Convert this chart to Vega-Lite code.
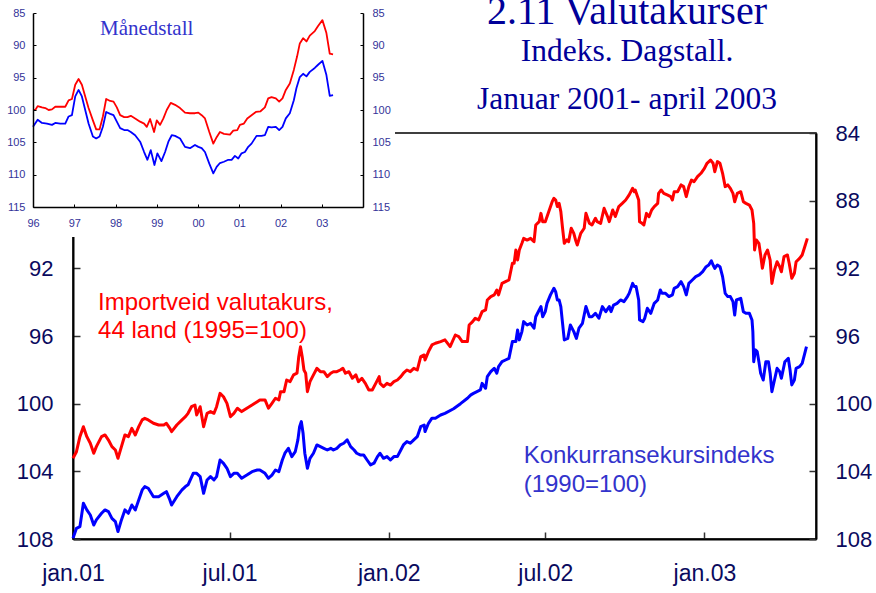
{
"$schema": "https://vega.github.io/schema/vega-lite/v6.json",
"width": 743, "height": 406,
"autosize": {"type": "none"},
"padding": {"left": 73, "top": 133, "right": 60, "bottom": 54},
"background": "white",
"config": {"view": {"stroke": "#000000", "strokeWidth": 1.5}, "font": "Liberation Sans"},
"title": {"text": "2.11 Valutakurser", "subtitle": ["Indeks. Dagstall.", "Januar 2001- april 2003"], "anchor": "middle", "dx": 182.5, "dy": 122, "frame": "group", "font": "Liberation Serif", "fontSize": 40, "fontWeight": "normal", "color": "#000099", "subtitleFont": "Liberation Serif", "subtitleFontSize": 31.5, "subtitleColor": "#000099", "subtitleLineHeight": 48, "subtitlePadding": 4, "offset": 0},
"datasets": {
"daily": [
{"d":"2001-01-01","s":"I","v":103.23},{"d":"2001-01-05","s":"I","v":102.84},{"d":"2001-01-09","s":"I","v":101.95},{"d":"2001-01-13","s":"I","v":101.36},{"d":"2001-01-17","s":"I","v":101.95},{"d":"2001-01-21","s":"I","v":102.34},{"d":"2001-01-25","s":"I","v":102.93},{"d":"2001-01-28","s":"I","v":102.54},{"d":"2001-02-03","s":"I","v":101.95},{"d":"2001-02-07","s":"I","v":101.85},{"d":"2001-02-11","s":"I","v":102.15},{"d":"2001-02-15","s":"I","v":102.54},{"d":"2001-02-19","s":"I","v":102.74},{"d":"2001-02-22","s":"I","v":103.23},{"d":"2001-02-26","s":"I","v":102.54},{"d":"2001-03-02","s":"I","v":101.85},{"d":"2001-03-06","s":"I","v":101.95},{"d":"2001-03-10","s":"I","v":101.46},{"d":"2001-03-14","s":"I","v":101.85},{"d":"2001-03-18","s":"I","v":101.36},{"d":"2001-03-22","s":"I","v":100.96},{"d":"2001-03-25","s":"I","v":100.87},{"d":"2001-03-29","s":"I","v":100.96},{"d":"2001-04-04","s":"I","v":101.16},{"d":"2001-04-10","s":"I","v":101.26},{"d":"2001-04-16","s":"I","v":101.26},{"d":"2001-04-19","s":"I","v":101.16},{"d":"2001-04-23","s":"I","v":101.46},{"d":"2001-04-25","s":"I","v":101.65},{"d":"2001-05-01","s":"I","v":101.26},{"d":"2001-05-07","s":"I","v":100.96},{"d":"2001-05-11","s":"I","v":100.77},{"d":"2001-05-14","s":"I","v":100.57},{"d":"2001-05-18","s":"I","v":100.18},{"d":"2001-05-22","s":"I","v":100.08},{"d":"2001-05-24","s":"I","v":100.67},{"d":"2001-05-28","s":"I","v":100.18},{"d":"2001-06-01","s":"I","v":101.36},{"d":"2001-06-05","s":"I","v":100.57},{"d":"2001-06-09","s":"I","v":100.47},{"d":"2001-06-13","s":"I","v":100.57},{"d":"2001-06-16","s":"I","v":100.18},{"d":"2001-06-20","s":"I","v":99.39},{"d":"2001-06-24","s":"I","v":99.59},{"d":"2001-06-28","s":"I","v":99.98},{"d":"2001-07-02","s":"I","v":100.77},{"d":"2001-07-06","s":"I","v":100.57},{"d":"2001-07-10","s":"I","v":100.27},{"d":"2001-07-15","s":"I","v":100.47},{"d":"2001-07-21","s":"I","v":100.27},{"d":"2001-07-27","s":"I","v":100.08},{"d":"2001-08-02","s":"I","v":99.88},{"d":"2001-08-05","s":"I","v":99.78},
{"d":"2001-08-11","s":"I","v":99.78},{"d":"2001-08-15","s":"I","v":100.27},{"d":"2001-08-19","s":"I","v":99.98},{"d":"2001-08-23","s":"I","v":99.68},{"d":"2001-08-27","s":"I","v":99.78},{"d":"2001-08-29","s":"I","v":99.29},{"d":"2001-09-02","s":"I","v":99.29},{"d":"2001-09-05","s":"I","v":98.60},{"d":"2001-09-09","s":"I","v":98.70},{"d":"2001-09-13","s":"I","v":98.30},{"d":"2001-09-17","s":"I","v":98.20},{"d":"2001-09-19","s":"I","v":97.22},{"d":"2001-09-21","s":"I","v":96.63},{"d":"2001-09-23","s":"I","v":97.22},{"d":"2001-09-25","s":"I","v":98.01},{"d":"2001-09-27","s":"I","v":98.20},{"d":"2001-09-29","s":"I","v":99.29},{"d":"2001-10-02","s":"I","v":98.70},{"d":"2001-10-06","s":"I","v":98.30},{"d":"2001-10-10","s":"I","v":97.91},{"d":"2001-10-14","s":"I","v":98.11},{"d":"2001-10-18","s":"I","v":98.11},{"d":"2001-10-22","s":"I","v":98.40},{"d":"2001-10-26","s":"I","v":98.20},{"d":"2001-10-29","s":"I","v":98.11},{"d":"2001-11-02","s":"I","v":98.11},{"d":"2001-11-06","s":"I","v":98.01},{"d":"2001-11-09","s":"I","v":97.91},{"d":"2001-11-12","s":"I","v":98.20},{"d":"2001-11-16","s":"I","v":98.11},{"d":"2001-11-20","s":"I","v":98.50},{"d":"2001-11-24","s":"I","v":98.30},{"d":"2001-11-27","s":"I","v":98.70},{"d":"2001-12-01","s":"I","v":98.50},{"d":"2001-12-05","s":"I","v":98.80},{"d":"2001-12-09","s":"I","v":99.19},{"d":"2001-12-13","s":"I","v":99.19},{"d":"2001-12-17","s":"I","v":98.80},{"d":"2001-12-21","s":"I","v":98.40},{"d":"2001-12-22","s":"I","v":98.80},{"d":"2001-12-26","s":"I","v":98.99},{"d":"2001-12-30","s":"I","v":98.80},{"d":"2002-01-03","s":"I","v":98.90},{"d":"2002-01-07","s":"I","v":98.70},{"d":"2002-01-11","s":"I","v":98.60},{"d":"2002-01-15","s":"I","v":98.40},{"d":"2002-01-18","s":"I","v":98.20},{"d":"2002-01-22","s":"I","v":98.01},{"d":"2002-01-26","s":"I","v":98.11},{"d":"2002-01-30","s":"I","v":97.91},{"d":"2002-02-03","s":"I","v":98.01},{"d":"2002-02-07","s":"I","v":97.22},{"d":"2002-02-11","s":"I","v":97.12},{"d":"2002-02-12","s":"I","v":97.42},{"d":"2002-02-16","s":"I","v":96.92},{"d":"2002-02-20","s":"I","v":96.53},{"d":"2002-02-24","s":"I","v":96.43},{"d":"2002-03-02","s":"I","v":96.33},{"d":"2002-03-07","s":"I","v":96.23},
{"d":"2002-03-13","s":"I","v":96.63},{"d":"2002-03-19","s":"I","v":95.94},{"d":"2002-03-23","s":"I","v":96.04},{"d":"2002-03-27","s":"I","v":96.33},{"d":"2002-04-02","s":"I","v":96.33},{"d":"2002-04-04","s":"I","v":95.35},{"d":"2002-04-08","s":"I","v":95.15},{"d":"2002-04-11","s":"I","v":94.95},{"d":"2002-04-15","s":"I","v":95.05},{"d":"2002-04-19","s":"I","v":94.56},{"d":"2002-04-23","s":"I","v":94.46},{"d":"2002-04-25","s":"I","v":93.87},{"d":"2002-04-29","s":"I","v":93.67},{"d":"2002-05-03","s":"I","v":93.57},{"d":"2002-05-06","s":"I","v":93.28},{"d":"2002-05-08","s":"I","v":93.57},{"d":"2002-05-12","s":"I","v":92.89},{"d":"2002-05-16","s":"I","v":92.79},{"d":"2002-05-20","s":"I","v":92.69},{"d":"2002-05-24","s":"I","v":91.70},{"d":"2002-05-26","s":"I","v":91.70},{"d":"2002-05-28","s":"I","v":90.92},{"d":"2002-05-30","s":"I","v":91.51},{"d":"2002-06-01","s":"I","v":90.92},{"d":"2002-06-04","s":"I","v":90.52},{"d":"2002-06-06","s":"I","v":90.23},{"d":"2002-06-10","s":"I","v":90.33},{"d":"2002-06-14","s":"I","v":90.23},{"d":"2002-06-18","s":"I","v":90.42},{"d":"2002-06-20","s":"I","v":89.44},{"d":"2002-06-24","s":"I","v":89.24},{"d":"2002-06-26","s":"I","v":88.75},{"d":"2002-06-28","s":"I","v":89.24},{"d":"2002-07-01","s":"I","v":89.24},{"d":"2002-07-05","s":"I","v":88.65},{"d":"2002-07-09","s":"I","v":88.06},{"d":"2002-07-11","s":"I","v":87.86},{"d":"2002-07-13","s":"I","v":87.96},{"d":"2002-07-15","s":"I","v":88.35},{"d":"2002-07-17","s":"I","v":88.16},{"d":"2002-07-19","s":"I","v":88.65},{"d":"2002-07-21","s":"I","v":89.63},{"d":"2002-07-23","s":"I","v":90.52},{"d":"2002-07-26","s":"I","v":90.32},{"d":"2002-07-28","s":"I","v":90.42},{"d":"2002-07-31","s":"I","v":89.63},{"d":"2002-08-03","s":"I","v":89.93},{"d":"2002-08-05","s":"I","v":90.32},{"d":"2002-08-07","s":"I","v":90.62},{"d":"2002-08-11","s":"I","v":89.93},{"d":"2002-08-15","s":"I","v":89.63},{"d":"2002-08-17","s":"I","v":88.75},{"d":"2002-08-21","s":"I","v":89.34},{"d":"2002-08-24","s":"I","v":89.44},{"d":"2002-08-28","s":"I","v":89.04},{"d":"2002-08-30","s":"I","v":89.24},{"d":"2002-09-03","s":"I","v":89.34},{"d":"2002-09-07","s":"I","v":88.45},{"d":"2002-09-11","s":"I","v":88.94},{"d":"2002-09-13","s":"I","v":89.24},{"d":"2002-09-17","s":"I","v":88.55},{"d":"2002-09-20","s":"I","v":88.94},{"d":"2002-09-24","s":"I","v":88.35},{"d":"2002-09-28","s":"I","v":88.16},{"d":"2002-10-02","s":"I","v":87.96},
{"d":"2002-10-06","s":"I","v":87.66},{"d":"2002-10-10","s":"I","v":87.27},{"d":"2002-10-12","s":"I","v":87.47},{"d":"2002-10-13","s":"I","v":87.37},{"d":"2002-10-17","s":"I","v":87.96},{"d":"2002-10-18","s":"I","v":89.24},{"d":"2002-10-21","s":"I","v":89.34},{"d":"2002-10-23","s":"I","v":89.44},{"d":"2002-10-26","s":"I","v":88.75},{"d":"2002-10-29","s":"I","v":88.95},{"d":"2002-11-01","s":"I","v":88.55},{"d":"2002-11-04","s":"I","v":88.35},{"d":"2002-11-08","s":"I","v":88.16},{"d":"2002-11-09","s":"I","v":87.57},{"d":"2002-11-12","s":"I","v":87.37},{"d":"2002-11-15","s":"I","v":87.57},{"d":"2002-11-19","s":"I","v":87.66},{"d":"2002-11-23","s":"I","v":87.76},{"d":"2002-11-25","s":"I","v":87.96},{"d":"2002-11-27","s":"I","v":87.47},{"d":"2002-12-01","s":"I","v":87.47},{"d":"2002-12-05","s":"I","v":87.07},{"d":"2002-12-08","s":"I","v":87.17},{"d":"2002-12-11","s":"I","v":87.76},{"d":"2002-12-14","s":"I","v":87.17},{"d":"2002-12-17","s":"I","v":86.78},{"d":"2002-12-20","s":"I","v":86.88},{"d":"2002-12-24","s":"I","v":86.58},{"d":"2002-12-28","s":"I","v":86.38},{"d":"2003-01-01","s":"I","v":86.09},{"d":"2003-01-04","s":"I","v":85.79},{"d":"2003-01-08","s":"I","v":85.60},{"d":"2003-01-11","s":"I","v":85.79},{"d":"2003-01-13","s":"I","v":86.29},{"d":"2003-01-16","s":"I","v":85.69},{"d":"2003-01-19","s":"I","v":85.79},{"d":"2003-01-22","s":"I","v":86.38},{"d":"2003-01-25","s":"I","v":87.17},{"d":"2003-01-28","s":"I","v":87.07},{"d":"2003-01-31","s":"I","v":87.27},{"d":"2003-02-03","s":"I","v":87.57},{"d":"2003-02-05","s":"I","v":88.06},{"d":"2003-02-08","s":"I","v":87.57},{"d":"2003-02-12","s":"I","v":87.47},{"d":"2003-02-15","s":"I","v":88.06},{"d":"2003-02-18","s":"I","v":88.16},{"d":"2003-02-22","s":"I","v":88.26},{"d":"2003-02-25","s":"I","v":88.55},{"d":"2003-02-27","s":"I","v":89.34},{"d":"2003-02-28","s":"I","v":90.92},{"d":"2003-03-02","s":"I","v":90.32},{"d":"2003-03-05","s":"I","v":90.52},{"d":"2003-03-07","s":"I","v":91.21},{"d":"2003-03-09","s":"I","v":92.00},{"d":"2003-03-12","s":"I","v":91.21},{"d":"2003-03-15","s":"I","v":90.92},{"d":"2003-03-18","s":"I","v":91.51},{"d":"2003-03-20","s":"I","v":92.89},{"d":"2003-03-23","s":"I","v":92.10},{"d":"2003-03-26","s":"I","v":91.61},{"d":"2003-03-29","s":"I","v":91.90},{"d":"2003-03-31","s":"I","v":92.20},{"d":"2003-04-03","s":"I","v":91.31},{"d":"2003-04-07","s":"I","v":91.21},{"d":"2003-04-09","s":"I","v":91.70},{"d":"2003-04-12","s":"I","v":92.59},{"d":"2003-04-15","s":"I","v":92.29},{"d":"2003-04-17","s":"I","v":91.61},{"d":"2003-04-21","s":"I","v":91.41},{"d":"2003-04-24","s":"I","v":91.21},{"d":"2003-04-27","s":"I","v":90.72},{"d":"2003-04-30","s":"I","v":90.23},
{"d":"2001-01-01","s":"K","v":107.96},{"d":"2001-01-05","s":"K","v":107.37},{"d":"2001-01-09","s":"K","v":107.27},{"d":"2001-01-13","s":"K","v":105.89},{"d":"2001-01-17","s":"K","v":106.28},{"d":"2001-01-21","s":"K","v":106.58},{"d":"2001-01-25","s":"K","v":107.17},{"d":"2001-01-28","s":"K","v":106.87},{"d":"2001-02-03","s":"K","v":106.48},{"d":"2001-02-07","s":"K","v":106.28},{"d":"2001-02-11","s":"K","v":106.38},{"d":"2001-02-15","s":"K","v":106.78},{"d":"2001-02-19","s":"K","v":106.97},{"d":"2001-02-22","s":"K","v":107.56},{"d":"2001-02-26","s":"K","v":106.87},{"d":"2001-03-02","s":"K","v":106.28},{"d":"2001-03-06","s":"K","v":106.48},{"d":"2001-03-10","s":"K","v":105.99},{"d":"2001-03-14","s":"K","v":106.28},{"d":"2001-03-18","s":"K","v":105.69},{"d":"2001-03-22","s":"K","v":105.10},{"d":"2001-03-25","s":"K","v":104.90},{"d":"2001-03-29","s":"K","v":105.00},{"d":"2001-04-04","s":"K","v":105.50},{"d":"2001-04-10","s":"K","v":105.50},{"d":"2001-04-16","s":"K","v":105.30},{"d":"2001-04-19","s":"K","v":105.20},{"d":"2001-04-23","s":"K","v":105.69},{"d":"2001-04-25","s":"K","v":105.99},{"d":"2001-05-01","s":"K","v":105.50},{"d":"2001-05-07","s":"K","v":105.10},{"d":"2001-05-11","s":"K","v":104.90},{"d":"2001-05-14","s":"K","v":104.80},{"d":"2001-05-20","s":"K","v":104.12},{"d":"2001-05-24","s":"K","v":104.12},{"d":"2001-05-28","s":"K","v":104.31},{"d":"2001-06-01","s":"K","v":105.30},{"d":"2001-06-05","s":"K","v":104.51},{"d":"2001-06-09","s":"K","v":104.31},{"d":"2001-06-13","s":"K","v":104.51},{"d":"2001-06-16","s":"K","v":104.31},{"d":"2001-06-20","s":"K","v":103.33},{"d":"2001-06-24","s":"K","v":103.53},{"d":"2001-06-28","s":"K","v":103.82},{"d":"2001-07-02","s":"K","v":104.31},{"d":"2001-07-06","s":"K","v":104.12},{"d":"2001-07-10","s":"K","v":104.12},{"d":"2001-07-15","s":"K","v":104.41},{"d":"2001-07-21","s":"K","v":104.22},{"d":"2001-07-27","s":"K","v":104.02},{"d":"2001-08-02","s":"K","v":103.92},{"d":"2001-08-05","s":"K","v":103.92},
{"d":"2001-08-11","s":"K","v":104.12},{"d":"2001-08-15","s":"K","v":104.41},{"d":"2001-08-19","s":"K","v":104.22},{"d":"2001-08-23","s":"K","v":103.92},{"d":"2001-08-27","s":"K","v":104.02},{"d":"2001-08-31","s":"K","v":103.33},{"d":"2001-09-03","s":"K","v":102.93},{"d":"2001-09-07","s":"K","v":102.64},{"d":"2001-09-11","s":"K","v":103.13},{"d":"2001-09-15","s":"K","v":102.83},{"d":"2001-09-18","s":"K","v":102.14},{"d":"2001-09-20","s":"K","v":101.36},{"d":"2001-09-22","s":"K","v":101.06},{"d":"2001-09-24","s":"K","v":101.75},{"d":"2001-09-26","s":"K","v":102.93},{"d":"2001-09-29","s":"K","v":103.82},{"d":"2001-10-02","s":"K","v":103.23},{"d":"2001-10-06","s":"K","v":102.93},{"d":"2001-10-10","s":"K","v":102.44},{"d":"2001-10-14","s":"K","v":102.54},{"d":"2001-10-18","s":"K","v":102.64},{"d":"2001-10-22","s":"K","v":102.74},{"d":"2001-10-26","s":"K","v":102.64},{"d":"2001-10-29","s":"K","v":102.74},{"d":"2001-11-02","s":"K","v":102.64},{"d":"2001-11-06","s":"K","v":102.44},{"d":"2001-11-10","s":"K","v":102.34},{"d":"2001-11-14","s":"K","v":102.14},{"d":"2001-11-18","s":"K","v":102.54},{"d":"2001-11-22","s":"K","v":102.74},{"d":"2001-11-25","s":"K","v":102.93},{"d":"2001-11-29","s":"K","v":103.03},{"d":"2001-12-03","s":"K","v":103.03},{"d":"2001-12-07","s":"K","v":103.33},{"d":"2001-12-11","s":"K","v":103.62},{"d":"2001-12-15","s":"K","v":103.52},{"d":"2001-12-19","s":"K","v":103.13},{"d":"2001-12-22","s":"K","v":102.93},{"d":"2001-12-26","s":"K","v":103.23},{"d":"2001-12-30","s":"K","v":103.13},{"d":"2002-01-03","s":"K","v":103.33},{"d":"2002-01-07","s":"K","v":103.13},{"d":"2002-01-11","s":"K","v":103.13},{"d":"2002-01-15","s":"K","v":102.74},{"d":"2002-01-18","s":"K","v":102.44},{"d":"2002-01-22","s":"K","v":102.24},{"d":"2002-01-26","s":"K","v":102.34},{"d":"2002-01-30","s":"K","v":102.14},{"d":"2002-02-03","s":"K","v":101.95},{"d":"2002-02-07","s":"K","v":101.36},{"d":"2002-02-11","s":"K","v":101.26},{"d":"2002-02-12","s":"K","v":101.65},{"d":"2002-02-16","s":"K","v":101.16},{"d":"2002-02-20","s":"K","v":100.86},{"d":"2002-02-24","s":"K","v":100.86},{"d":"2002-03-02","s":"K","v":100.67},{"d":"2002-03-07","s":"K","v":100.57},{"d":"2002-03-17","s":"K","v":100.30},{"d":"2002-03-25","s":"K","v":100.00},
{"d":"2002-04-02","s":"K","v":99.68},{"d":"2002-04-06","s":"K","v":99.48},{"d":"2002-04-09","s":"K","v":99.39},{"d":"2002-04-13","s":"K","v":99.29},{"d":"2002-04-17","s":"K","v":99.19},{"d":"2002-04-19","s":"K","v":98.80},{"d":"2002-04-23","s":"K","v":99.09},{"d":"2002-04-25","s":"K","v":98.40},{"d":"2002-04-29","s":"K","v":98.11},{"d":"2002-05-03","s":"K","v":97.91},{"d":"2002-05-06","s":"K","v":98.20},{"d":"2002-05-08","s":"K","v":97.81},{"d":"2002-05-12","s":"K","v":97.52},{"d":"2002-05-16","s":"K","v":97.42},{"d":"2002-05-20","s":"K","v":97.32},{"d":"2002-05-24","s":"K","v":96.33},{"d":"2002-05-28","s":"K","v":96.33},{"d":"2002-05-30","s":"K","v":95.64},{"d":"2002-06-01","s":"K","v":96.23},{"d":"2002-06-04","s":"K","v":95.74},{"d":"2002-06-06","s":"K","v":95.15},{"d":"2002-06-10","s":"K","v":95.35},{"d":"2002-06-14","s":"K","v":95.25},{"d":"2002-06-18","s":"K","v":95.54},{"d":"2002-06-20","s":"K","v":94.86},{"d":"2002-06-24","s":"K","v":94.46},{"d":"2002-06-26","s":"K","v":94.26},{"d":"2002-06-28","s":"K","v":94.86},{"d":"2002-07-01","s":"K","v":94.56},{"d":"2002-07-03","s":"K","v":94.07},{"d":"2002-07-07","s":"K","v":93.57},{"d":"2002-07-11","s":"K","v":93.18},{"d":"2002-07-13","s":"K","v":93.38},{"d":"2002-07-15","s":"K","v":93.87},{"d":"2002-07-17","s":"K","v":93.87},{"d":"2002-07-19","s":"K","v":94.26},{"d":"2002-07-21","s":"K","v":95.25},{"d":"2002-07-23","s":"K","v":96.23},{"d":"2002-07-27","s":"K","v":96.14},{"d":"2002-07-30","s":"K","v":95.35},{"d":"2002-08-03","s":"K","v":95.74},{"d":"2002-08-06","s":"K","v":96.14},{"d":"2002-08-09","s":"K","v":95.54},{"d":"2002-08-13","s":"K","v":95.25},{"d":"2002-08-17","s":"K","v":94.26},{"d":"2002-08-21","s":"K","v":94.86},{"d":"2002-08-24","s":"K","v":94.86},{"d":"2002-08-28","s":"K","v":94.66},{"d":"2002-09-01","s":"K","v":94.95},{"d":"2002-09-05","s":"K","v":94.26},{"d":"2002-09-09","s":"K","v":94.56},{"d":"2002-09-13","s":"K","v":94.26},{"d":"2002-09-15","s":"K","v":94.56},{"d":"2002-09-18","s":"K","v":94.17},{"d":"2002-09-22","s":"K","v":94.07},{"d":"2002-09-26","s":"K","v":93.87},{"d":"2002-09-30","s":"K","v":93.97},{"d":"2002-10-04","s":"K","v":93.67},
{"d":"2002-10-06","s":"K","v":93.48},{"d":"2002-10-10","s":"K","v":92.89},{"d":"2002-10-12","s":"K","v":93.08},{"d":"2002-10-14","s":"K","v":93.08},{"d":"2002-10-17","s":"K","v":93.87},{"d":"2002-10-18","s":"K","v":95.05},{"d":"2002-10-22","s":"K","v":95.15},{"d":"2002-10-24","s":"K","v":94.95},{"d":"2002-10-27","s":"K","v":94.36},{"d":"2002-10-31","s":"K","v":94.66},{"d":"2002-11-04","s":"K","v":94.07},{"d":"2002-11-08","s":"K","v":93.87},{"d":"2002-11-11","s":"K","v":93.28},{"d":"2002-11-13","s":"K","v":93.48},{"d":"2002-11-17","s":"K","v":93.48},{"d":"2002-11-21","s":"K","v":93.67},{"d":"2002-11-25","s":"K","v":93.57},{"d":"2002-11-27","s":"K","v":93.18},{"d":"2002-12-01","s":"K","v":93.08},{"d":"2002-12-05","s":"K","v":92.79},{"d":"2002-12-08","s":"K","v":93.08},{"d":"2002-12-11","s":"K","v":93.57},{"d":"2002-12-14","s":"K","v":92.89},{"d":"2002-12-18","s":"K","v":92.69},{"d":"2002-12-22","s":"K","v":92.49},{"d":"2002-12-26","s":"K","v":92.39},{"d":"2002-12-30","s":"K","v":92.20},{"d":"2003-01-03","s":"K","v":91.90},{"d":"2003-01-06","s":"K","v":91.80},{"d":"2003-01-09","s":"K","v":91.55},{"d":"2003-01-11","s":"K","v":91.80},{"d":"2003-01-13","s":"K","v":92.00},{"d":"2003-01-16","s":"K","v":91.80},{"d":"2003-01-19","s":"K","v":91.90},{"d":"2003-01-22","s":"K","v":92.49},{"d":"2003-01-25","s":"K","v":93.48},{"d":"2003-01-28","s":"K","v":93.67},{"d":"2003-01-31","s":"K","v":93.67},{"d":"2003-02-03","s":"K","v":93.97},{"d":"2003-02-05","s":"K","v":94.76},{"d":"2003-02-07","s":"K","v":93.87},{"d":"2003-02-12","s":"K","v":93.77},{"d":"2003-02-15","s":"K","v":94.56},{"d":"2003-02-18","s":"K","v":94.66},{"d":"2003-02-22","s":"K","v":94.66},{"d":"2003-02-25","s":"K","v":95.05},{"d":"2003-02-26","s":"K","v":95.74},{"d":"2003-02-27","s":"K","v":97.52},{"d":"2003-03-01","s":"K","v":96.82},{"d":"2003-03-03","s":"K","v":96.92},{"d":"2003-03-05","s":"K","v":97.52},{"d":"2003-03-07","s":"K","v":98.20},{"d":"2003-03-10","s":"K","v":98.60},{"d":"2003-03-13","s":"K","v":97.52},{"d":"2003-03-16","s":"K","v":97.52},{"d":"2003-03-18","s":"K","v":98.20},{"d":"2003-03-20","s":"K","v":99.29},{"d":"2003-03-23","s":"K","v":98.60},{"d":"2003-03-26","s":"K","v":97.91},{"d":"2003-03-29","s":"K","v":98.11},{"d":"2003-03-31","s":"K","v":98.50},{"d":"2003-04-04","s":"K","v":97.52},{"d":"2003-04-08","s":"K","v":97.32},{"d":"2003-04-10","s":"K","v":98.01},{"d":"2003-04-12","s":"K","v":98.89},{"d":"2003-04-15","s":"K","v":98.60},{"d":"2003-04-17","s":"K","v":97.91},{"d":"2003-04-21","s":"K","v":97.81},{"d":"2003-04-24","s":"K","v":97.62},{"d":"2003-04-27","s":"K","v":97.02},{"d":"2003-04-29","s":"K","v":96.63}
],
"monthly": [
{"t":1996.000,"s":"I","v":100.0},{"t":1996.056,"s":"I","v":100.0},{"t":1996.113,"s":"I","v":99.4},{"t":1996.218,"s":"I","v":99.6},{"t":1996.298,"s":"I","v":99.7},{"t":1996.379,"s":"I","v":100.0},{"t":1996.460,"s":"I","v":99.9},{"t":1996.540,"s":"I","v":99.5},{"t":1996.661,"s":"I","v":99.5},{"t":1996.782,"s":"I","v":99.5},{"t":1996.863,"s":"I","v":98.5},{"t":1996.944,"s":"I","v":98.3},{"t":1997.024,"s":"I","v":96.1},{"t":1997.105,"s":"I","v":95.2},{"t":1997.185,"s":"I","v":96.1},{"t":1997.266,"s":"I","v":97.9},{"t":1997.347,"s":"I","v":99.7},{"t":1997.452,"s":"I","v":101.6},{"t":1997.532,"s":"I","v":103.0},{"t":1997.613,"s":"I","v":103.0},{"t":1997.694,"s":"I","v":101.0},{"t":1997.774,"s":"I","v":98.3},{"t":1997.871,"s":"I","v":98.6},{"t":1997.952,"s":"I","v":98.7},{"t":1998.032,"s":"I","v":99.6},{"t":1998.113,"s":"I","v":100.8},{"t":1998.210,"s":"I","v":101.1},{"t":1998.290,"s":"I","v":101.1},{"t":1998.371,"s":"I","v":100.9},{"t":1998.476,"s":"I","v":101.3},{"t":1998.597,"s":"I","v":101.8},{"t":1998.694,"s":"I","v":102.1},{"t":1998.758,"s":"I","v":102.6},{"t":1998.839,"s":"I","v":101.4},{"t":1998.935,"s":"I","v":103.4},{"t":1999.000,"s":"I","v":101.6},{"t":1999.081,"s":"I","v":102.3},{"t":1999.161,"s":"I","v":101.3},{"t":1999.242,"s":"I","v":100.0},{"t":1999.339,"s":"I","v":98.9},{"t":1999.444,"s":"I","v":99.2},{"t":1999.565,"s":"I","v":99.7},{"t":1999.685,"s":"I","v":100.4},{"t":1999.806,"s":"I","v":100.5},{"t":1999.927,"s":"I","v":100.5},{"t":2000.008,"s":"I","v":100.4},{"t":2000.089,"s":"I","v":100.8},{"t":2000.169,"s":"I","v":101.3},{"t":2000.274,"s":"I","v":103.4},{"t":2000.371,"s":"I","v":105.2},{"t":2000.452,"s":"I","v":104.2},{"t":2000.532,"s":"I","v":103.4},{"t":2000.629,"s":"I","v":103.7},{"t":2000.774,"s":"I","v":103.8},{"t":2000.855,"s":"I","v":103.2},{"t":2000.952,"s":"I","v":103.1},{"t":2001.016,"s":"I","v":102.3},{"t":2001.113,"s":"I","v":102.1},{"t":2001.194,"s":"I","v":101.3},{"t":2001.298,"s":"I","v":100.8},{"t":2001.403,"s":"I","v":100.3},{"t":2001.516,"s":"I","v":100.2},{"t":2001.621,"s":"I","v":99.6},{"t":2001.702,"s":"I","v":98.2},{"t":2001.782,"s":"I","v":98.0},{"t":2001.887,"s":"I","v":98.2},{"t":2001.968,"s":"I","v":98.7},{"t":2002.048,"s":"I","v":98.2},{"t":2002.129,"s":"I","v":96.9},{"t":2002.226,"s":"I","v":95.9},{"t":2002.323,"s":"I","v":93.8},{"t":2002.403,"s":"I","v":91.7},{"t":2002.468,"s":"I","v":89.7},{"t":2002.548,"s":"I","v":88.9},{"t":2002.629,"s":"I","v":89.4},{"t":2002.710,"s":"I","v":88.5},{"t":2002.831,"s":"I","v":87.8},{"t":2002.911,"s":"I","v":87.0},{"t":2003.016,"s":"I","v":86.1},{"t":2003.113,"s":"I","v":88.1},{"t":2003.194,"s":"I","v":91.3},{"t":2003.274,"s":"I","v":91.4},
{"t":1996.000,"s":"K","v":102.6},{"t":1996.113,"s":"K","v":101.5},{"t":1996.218,"s":"K","v":102.0},{"t":1996.339,"s":"K","v":102.1},{"t":1996.460,"s":"K","v":102.3},{"t":1996.540,"s":"K","v":102.0},{"t":1996.661,"s":"K","v":102.1},{"t":1996.782,"s":"K","v":102.1},{"t":1996.863,"s":"K","v":101.0},{"t":1996.944,"s":"K","v":100.8},{"t":1997.024,"s":"K","v":97.9},{"t":1997.105,"s":"K","v":96.9},{"t":1997.185,"s":"K","v":97.9},{"t":1997.266,"s":"K","v":100.0},{"t":1997.347,"s":"K","v":102.1},{"t":1997.452,"s":"K","v":104.1},{"t":1997.532,"s":"K","v":104.4},{"t":1997.613,"s":"K","v":104.1},{"t":1997.694,"s":"K","v":102.6},{"t":1997.774,"s":"K","v":100.3},{"t":1997.871,"s":"K","v":100.6},{"t":1997.952,"s":"K","v":100.8},{"t":1998.032,"s":"K","v":101.8},{"t":1998.113,"s":"K","v":102.8},{"t":1998.210,"s":"K","v":103.1},{"t":1998.290,"s":"K","v":103.1},{"t":1998.371,"s":"K","v":103.4},{"t":1998.476,"s":"K","v":103.9},{"t":1998.597,"s":"K","v":104.9},{"t":1998.694,"s":"K","v":106.5},{"t":1998.774,"s":"K","v":107.7},{"t":1998.855,"s":"K","v":106.2},{"t":1998.944,"s":"K","v":108.5},{"t":1999.016,"s":"K","v":106.7},{"t":1999.113,"s":"K","v":107.9},{"t":1999.202,"s":"K","v":106.5},{"t":1999.282,"s":"K","v":104.9},{"t":1999.363,"s":"K","v":103.9},{"t":1999.444,"s":"K","v":104.0},{"t":1999.565,"s":"K","v":104.4},{"t":1999.685,"s":"K","v":105.7},{"t":1999.806,"s":"K","v":105.9},{"t":1999.927,"s":"K","v":105.4},{"t":2000.008,"s":"K","v":105.7},{"t":2000.089,"s":"K","v":105.9},{"t":2000.169,"s":"K","v":106.5},{"t":2000.274,"s":"K","v":108.3},{"t":2000.371,"s":"K","v":109.8},{"t":2000.452,"s":"K","v":108.8},{"t":2000.532,"s":"K","v":108.2},{"t":2000.629,"s":"K","v":108.0},{"t":2000.734,"s":"K","v":107.7},{"t":2000.815,"s":"K","v":107.7},{"t":2000.895,"s":"K","v":107.1},{"t":2000.976,"s":"K","v":107.5},{"t":2001.056,"s":"K","v":106.7},{"t":2001.137,"s":"K","v":106.5},{"t":2001.218,"s":"K","v":105.7},{"t":2001.298,"s":"K","v":105.2},{"t":2001.419,"s":"K","v":104.0},{"t":2001.540,"s":"K","v":104.0},{"t":2001.621,"s":"K","v":103.9},{"t":2001.702,"s":"K","v":102.6},{"t":2001.782,"s":"K","v":102.7},{"t":2001.887,"s":"K","v":102.6},{"t":2001.968,"s":"K","v":103.1},{"t":2002.048,"s":"K","v":102.6},{"t":2002.129,"s":"K","v":101.3},{"t":2002.226,"s":"K","v":100.5},{"t":2002.323,"s":"K","v":98.5},{"t":2002.387,"s":"K","v":96.6},{"t":2002.468,"s":"K","v":94.9},{"t":2002.548,"s":"K","v":94.4},{"t":2002.629,"s":"K","v":94.8},{"t":2002.710,"s":"K","v":94.1},{"t":2002.831,"s":"K","v":93.5},{"t":2002.911,"s":"K","v":93.0},{"t":2003.016,"s":"K","v":92.4},{"t":2003.113,"s":"K","v":94.6},{"t":2003.194,"s":"K","v":97.8},{"t":2003.274,"s":"K","v":97.7}
],
"notes": [
{"d":"2001-01-30","v":94.46,"s":"I","txt":"Importveid valutakurs,"},
{"d":"2001-01-30","v":96.12,"s":"I","txt":"44 land (1995=100)"},
{"d":"2002-06-06","v":103.5,"s":"K","txt":"Konkurransekursindeks"},
{"d":"2002-06-06","v":105.22,"s":"K","txt":"(1990=100)"}
],
"insetnote": [{"t":1997.624,"v":88.4,"txt":"Månedstall"}]
},
"layer": [
{
"layer": [
{"data": {"name": "daily"},
 "mark": {"type": "line", "strokeWidth": 3, "strokeJoin": "round"},
 "encoding": {
  "x": {"field": "d", "type": "temporal",
    "scale": {"type": "utc", "domain": [{"year": 2001, "month": 1, "date": 1, "utc": true}, {"year": 2003, "month": 5, "date": 10, "utc": true}]},
    "axis": {"orient": "bottom", "title": null, "grid": false,
      "values": [{"year": 2001, "month": 1, "date": 1, "utc": true}, {"year": 2001, "month": 7, "date": 1, "utc": true}, {"year": 2002, "month": 1, "date": 1, "utc": true}, {"year": 2002, "month": 7, "date": 1, "utc": true}, {"year": 2003, "month": 1, "date": 1, "utc": true}],
      "labelExpr": "(utcmonth(datum.value) == 0 ? 'jan.' : 'jul.') + utcFormat(datum.value, '%y')",
      "tickSize": -7, "tickWidth": 1.5, "tickColor": "#333333", "labelPadding": 30, "labelFlush": false,
      "labelFont": "Liberation Sans", "labelFontSize": 23, "labelColor": "#0a0a5e", "domainColor": "#000000", "domainWidth": 2}},
  "y": {"field": "v", "type": "quantitative",
    "scale": {"domain": [84, 108], "reverse": true, "nice": false, "zero": false},
    "axis": {"orient": "left", "title": null, "grid": false, "values": [84, 88, 92, 96, 100, 104, 108],
      "tickSize": -7, "tickWidth": 1.5, "tickColor": "#333333", "labelPadding": 27, "labelFlush": false,
      "labelFont": "Liberation Sans", "labelFontSize": 22, "labelColor": "#0a0a5e", "domainColor": "#000000", "domainWidth": 2}},
  "color": {"field": "s", "type": "nominal", "scale": {"domain": ["I", "K"], "range": ["#ff0000", "#0000ff"]}, "legend": null}
 }},
{"data": {"name": "notes"},
 "mark": {"type": "text", "align": "left", "baseline": "alphabetic", "font": "Liberation Sans", "fontSize": 24},
 "encoding": {
  "x": {"field": "d", "type": "temporal"},
  "y": {"field": "v", "type": "quantitative",
    "axis": {"orient": "right", "title": null, "grid": false, "values": [84, 88, 92, 96, 100, 104, 108],
      "tickSize": -7, "tickWidth": 1.5, "tickColor": "#333333", "labelPadding": 26, "labelFlush": false,
      "labelFont": "Liberation Sans", "labelFontSize": 22, "labelColor": "#0a0a5e", "domainColor": "#000000", "domainWidth": 2}},
  "text": {"field": "txt"},
  "color": {"condition": {"test": "datum.s === 'I'", "value": "#ff0000"}, "value": "#3333cc"}
 }}
],
"resolve": {"axis": {"y": "independent"}}
},
{
"layer": [
{"data": {"values": [{}]},
 "mark": {"type": "rect", "fill": "#ffffff"},
 "encoding": {
  "x": {"datum": 1995, "type": "quantitative", "scale": {"domain": [1996, 2004], "range": [-40, 290], "nice": false, "zero": false}, "axis": null},
  "x2": {"datum": 2004.776},
  "y": {"datum": 82, "type": "quantitative", "scale": {"domain": [85, 115], "range": [-120, 74], "nice": false, "zero": false}, "axis": null},
  "y2": {"datum": 119.64}
 }},
{"data": {"name": "monthly"},
 "mark": {"type": "line", "strokeWidth": 1.8, "strokeJoin": "round"},
 "encoding": {
  "x": {"field": "t", "type": "quantitative",
    "axis": {"orient": "bottom", "offset": -332, "title": null, "grid": false, "values": [1996, 1997, 1998, 1999, 2000, 2001, 2002, 2003],
      "labelExpr": "slice(toString(datum.value), 2)", "tickSize": -3, "tickColor": "#000000", "labelPadding": 13, "labelFlush": false,
      "labelFont": "Liberation Sans", "labelFontSize": 11, "labelColor": "#333399", "domainColor": "#000000", "domainWidth": 1.5, "zindex": 1}},
  "y": {"field": "v", "type": "quantitative",
    "axis": {"orient": "left", "offset": 40, "title": null, "grid": false, "values": [85, 90, 95, 100, 105, 110, 115],
      "tickSize": -3, "tickColor": "#000000", "labelPadding": 11, "labelFlush": false,
      "labelFont": "Liberation Sans", "labelFontSize": 11, "labelColor": "#333399", "domainColor": "#000000", "domainWidth": 1.5, "zindex": 1}},
  "color": {"field": "s", "type": "nominal", "legend": null}
 }},
{"data": {"name": "insetnote"},
 "mark": {"type": "text", "align": "left", "baseline": "alphabetic", "font": "Liberation Serif", "fontSize": 21, "color": "#3333cc"},
 "encoding": {
  "x": {"field": "t", "type": "quantitative", "axis": null},
  "y": {"field": "v", "type": "quantitative",
    "axis": {"orient": "right", "offset": -453, "title": null, "grid": false, "values": [85, 90, 95, 100, 105, 110, 115],
      "tickSize": -3, "tickColor": "#000000", "labelPadding": 12, "labelFlush": false,
      "labelFont": "Liberation Sans", "labelFontSize": 11, "labelColor": "#333399", "domainColor": "#000000", "domainWidth": 1.5, "zindex": 1}},
  "text": {"field": "txt"}
 }}
],
"resolve": {"axis": {"x": "independent", "y": "independent"}}
}
],
"resolve": {"scale": {"x": "independent", "y": "independent"}, "axis": {"x": "independent", "y": "independent"}}
}
